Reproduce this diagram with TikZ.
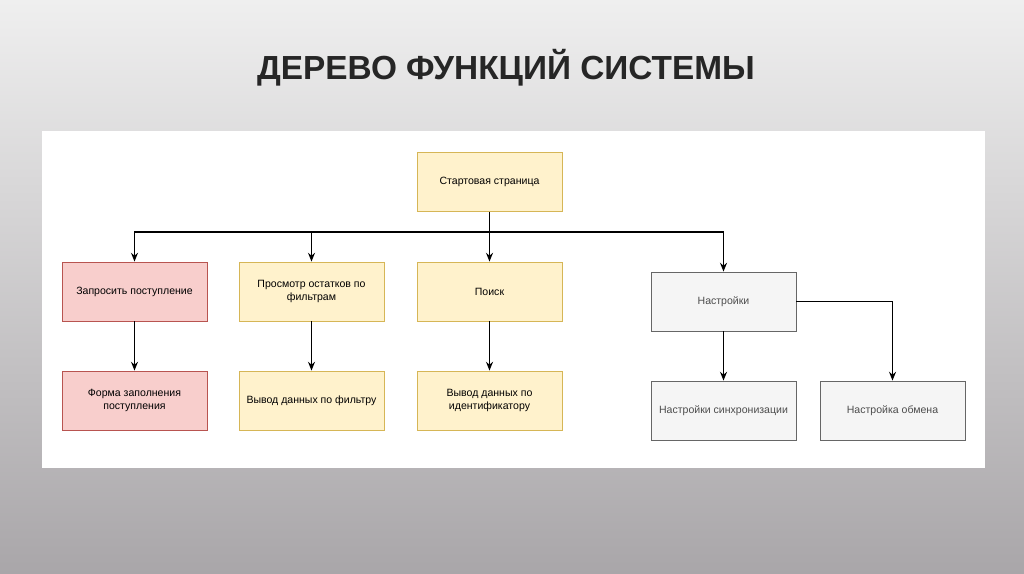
\documentclass[tikz,border=0pt]{standalone}
\usepackage{fontspec}
\setmainfont{Liberation Sans}
\usetikzlibrary{arrows.meta, positioning}
\definecolor{ylwfill}{HTML}{FFF2CC}
\definecolor{ylwline}{HTML}{D6B656}
\definecolor{redfill}{HTML}{F8CECC}
\definecolor{redline}{HTML}{B85450}
\definecolor{gryfill}{HTML}{F5F5F5}
\definecolor{gryline}{HTML}{666666}
\definecolor{bgtop}{HTML}{EFEFEF}
\definecolor{bgbot}{HTML}{A9A6A9}
\tikzset{
    fbox/.style={draw, minimum width=2.9cm, minimum height=1.18cm, align=center,
        inner sep=1pt, font=\fontsize{6}{7.5}\selectfont, line width=0.5pt},
    ybox/.style={fbox, fill=ylwfill, draw=ylwline},
    rbox/.style={fbox, fill=redfill, draw=redline},
    gbox/.style={fbox, fill=gryfill, draw=gryline, text=black!70},
    link/.style={-{Stealth[length=5pt,width=4pt]}, line width=0.6pt}
}
\begin{document}
\begin{tikzpicture}[x=0.02cm, y=-0.02cm]
    % background and panel
    \shade[top color=bgtop, bottom color=bgbot] (0,0) rectangle (1024,574);
    \useasboundingbox (0,0) rectangle (1024,574);
    \fill[white] (42,131) rectangle (985,468);
    \node[font=\fontsize{19}{22}\bfseries, text=black!85] (title) at (506,68) {ДЕРЕВО ФУНКЦИЙ СИСТЕМЫ};
    % boxes
    \node[ybox] (start) at (489.5,182) {Стартовая страница};
    \node[rbox] (req) at (134.5,291.5) {Запросить поступление};
    \node[ybox] (view) at (311.5,291.5) {Просмотр остатков по\\фильтрам};
    \node[ybox] (search) at (489.5,291.5) {Поиск};
    \node[gbox] (sett) at (723.5,301.5) {Настройки};
    \node[rbox] (form) at (134.5,400.5) {Форма заполнения\\поступления};
    \node[ybox] (outf) at (311.5,400.5) {Вывод данных по фильтру};
    \node[ybox] (outid) at (489.5,400.5) {Вывод данных по\\идентификатору};
    \node[gbox] (sync) at (723.5,410.5) {Настройки синхронизации};
    \node[gbox] (exch) at (892.5,410.5) {Настройка обмена};
    % connectors
    \coordinate (bus) at (489.5,232);
    \draw[line width=0.6pt] (start.south) -- (bus);
    \foreach \t in {req, view, search, sett}{
        \draw[link] (bus) -| (\t.north);}
    \draw[link] (req) -- (form);
    \draw[link] (view) -- (outf);
    \draw[link] (search) -- (outid);
    \draw[link] (sett) -- (sync);
    \draw[link] (sett.east) -| (exch.north);
\end{tikzpicture}
\end{document}
